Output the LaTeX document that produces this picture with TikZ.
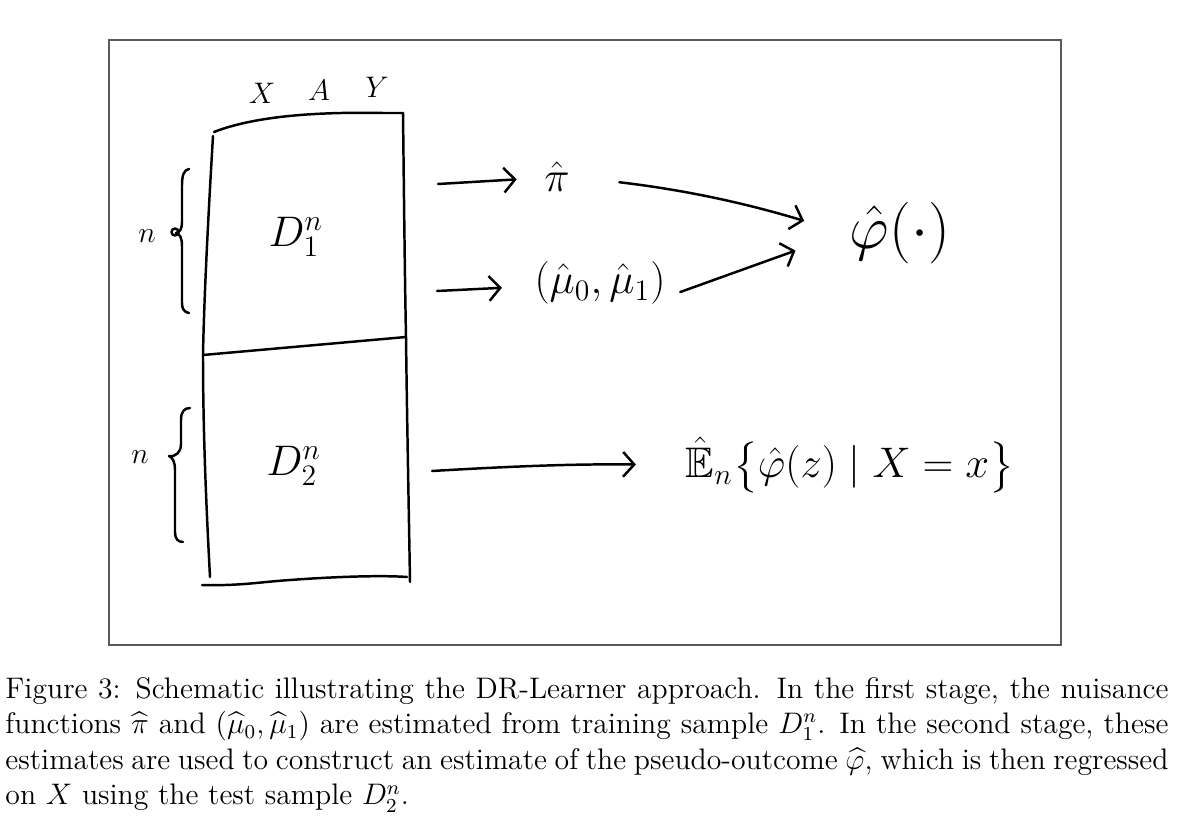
\documentclass[tikz,border=0pt]{standalone}
\usepackage{amsmath,amssymb}
\usepackage{xcolor}
\usetikzlibrary{arrows.meta}
\definecolor{framegray}{HTML}{5A5A5A}

\tikzset{
  sketch/.style={line width=1pt, line cap=round, line join=round},
  harrow/.style={sketch, -{Straight Barb[length=4.5pt,width=10pt]}},
  est/.style={inner sep=2pt},
}

\begin{document}
\begin{tikzpicture}[x=0.404pt,y=-0.404pt]
  \useasboundingbox (0,0) rectangle (1182,830);
  \draw[framegray, line width=0.5pt] (109,40) rectangle (1061,645);

  % the data table
  \draw[sketch] (214,132) .. controls (260,114) and (330,112) .. (383,113) -- (403,113)
    .. controls (404,200) and (405,290) .. (406,337)
    .. controls (407,420) and (409,520) .. (410,582);
  \draw[sketch] (213,136) .. controls (208,220) and (204,300) .. (203,355)
    .. controls (203,440) and (207,520) .. (210,577);
  \draw[sketch] (202,585) .. controls (240,586) and (260,582) .. (290,580)
    .. controls (330,577) and (380,575) .. (407,577);
  \draw[sketch] (203,355) -- (406,337);

  \node[font=\large] (colX) at (262,93) {$X$};
  \node[font=\large] (colA) at (319,90) {$A$};
  \node[font=\large] (colY) at (377,87) {$Y$};
  \node[font=\LARGE] (Done) at (296,237) {$D_1^n$};
  \node[font=\LARGE] (Dtwo) at (294,466) {$D_2^n$};

  % sample sizes
  \draw[sketch] (189,169) .. controls (184,170) and (182,175) .. (182,185) -- (182,222)
    .. controls (182,229) and (180,232) .. (176,233)
    .. controls (180,234) and (182,238) .. (182,246) -- (182,303)
    .. controls (182,309) and (184,312) .. (189,313);
  \draw[sketch] (175,232) circle (3.5);
  \draw[sketch] (190,408) .. controls (184,408) and (181,412) .. (181,420) -- (181,444)
    .. controls (181,452) and (176,457) .. (169,456)
    .. controls (173,458) and (175,462) .. (175,470) -- (175,532)
    .. controls (175,539) and (178,542) .. (183,542);
  \node[font=\large] (sizeone) at (147,236) {$n$};
  \node[font=\large] (sizetwo) at (140,457) {$n$};

  % estimates
  \node[est, font=\LARGE] (pihat) at (557,177) {$\hat\pi$};
  \node[est, font=\LARGE] (muhat) at (600,283) {$(\hat\mu_0,\hat\mu_1)$};
  \node[est, font=\Huge] (phihat) at (900,233) {$\hat\varphi(\cdot)$};
  \node[est, font=\LARGE] (Ehat) at (850,465) {$\hat{\mathbb{E}}_n\bigl\{\hat\varphi(z)\mid X=x\bigr\}$};

  \coordinate (outone) at (438,184);
  \coordinate (outtwo) at (437,291);
  \coordinate (outthree) at (432,471);

  \draw[harrow, shorten >=9pt] (outone) -- (pihat);
  \draw[harrow, shorten >=11pt] (outtwo) -- (muhat);
  \draw[harrow, shorten <=18pt, shorten >=17pt] (pihat.east) to[bend left=5] (phihat.west);
  \draw[harrow, shorten <=4pt, shorten >=21pt] ([yshift=-5pt]muhat.east) -- (phihat.west);
  \draw[harrow, shorten >=18pt] (outthree) to[bend left=2] (Ehat.west);

  % caption
  \node[anchor=base west, inner sep=0pt, text width=469.85pt, align=justify,
        font=\fontsize{12}{14.4}\selectfont] (caption) at (5,698)
    {Figure 3: Schematic illustrating the DR-Learner approach. In the first stage, the nuisance\linebreak
     functions $\widehat{\pi}$ and $(\widehat{\mu}_0,\widehat{\mu}_1)$ are estimated from training sample $D_1^n$. In the second stage, these\linebreak
     estimates are used to construct an estimate of the pseudo-outcome $\widehat{\varphi}$, which is then regressed\linebreak
     on $X$ using the test sample $D_2^n$.};
\end{tikzpicture}
\end{document}
